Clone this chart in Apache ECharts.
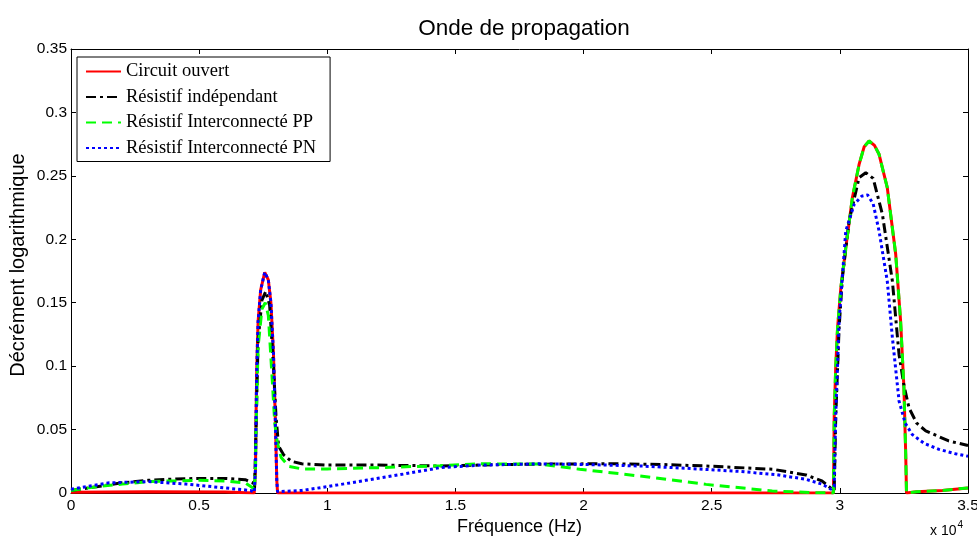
<!DOCTYPE html>
<html>
<head>
<meta charset="utf-8">
<script src="https://cdn.jsdelivr.net/npm/echarts@6/dist/echarts.min.js"></script>
<style>
  html, body { margin: 0; padding: 0; background: #fff; }
  #chart { width: 977px; height: 538px; }
</style>
</head>
<body>
<div id="chart"></div>
<script>
// frequencies in units of 1e4 Hz
const redX = [0, 0.3, 0.6, 0.715, 0.72, 0.722, 0.725, 0.73, 0.74, 0.756, 0.77, 0.78, 0.79, 0.797, 0.803, 0.806, 1.0, 1.5, 2.0, 2.5, 2.975,
  2.978, 2.984, 2.991, 3.004, 3.023, 3.049, 3.075, 3.095, 3.114, 3.135, 3.153, 3.185, 3.218, 3.237, 3.25, 3.257, 3.26, 3.3, 3.4, 3.5];
const redY = [0.0005, 0.001, 0.0008, 0, 0.02, 0.06, 0.1, 0.135, 0.16, 0.174, 0.168, 0.15, 0.11, 0.06, 0.01, 0, 0, 0, 0, 0, 0,
  0.06, 0.1, 0.13, 0.162, 0.193, 0.233, 0.259, 0.273, 0.2775, 0.274, 0.267, 0.2407, 0.188, 0.1356, 0.083, 0.0305, 0, 0.001, 0.002, 0.004];

const blackX = [0, 0.1, 0.2, 0.3, 0.4, 0.5, 0.6, 0.68, 0.71, 0.716, 0.722, 0.73, 0.745, 0.76, 0.775, 0.79, 0.8, 0.81, 0.83, 0.86, 0.9,
  1.0, 1.2, 1.44, 1.7, 2.089, 2.3, 2.478, 2.738, 2.868, 2.93, 2.97, 2.978, 2.984, 2.997, 3.01, 3.036, 3.075, 3.101, 3.13, 3.166,
  3.205, 3.231, 3.25, 3.27, 3.3, 3.335, 3.425, 3.5];
const blackY = [0.002, 0.005, 0.008, 0.01, 0.011, 0.0115, 0.0115, 0.0105, 0.008, 0.003, 0.05, 0.12, 0.152, 0.159, 0.148, 0.1, 0.06, 0.037, 0.03, 0.025, 0.023,
  0.022, 0.022, 0.0213, 0.0225, 0.0231, 0.0225, 0.0213, 0.0187, 0.0142, 0.0095, 0.003, 0.002, 0.06, 0.13, 0.17, 0.2144, 0.2486, 0.2525, 0.248, 0.2197,
  0.167, 0.109, 0.085, 0.067, 0.055, 0.049, 0.041, 0.0375];

const greenX = [0, 0.1, 0.2, 0.3, 0.4, 0.5, 0.6, 0.68, 0.71, 0.715, 0.72, 0.722, 0.73, 0.745, 0.758, 0.77, 0.785, 0.795, 0.805, 0.82, 0.85, 0.9,
  1.0, 1.2, 1.44, 1.6, 1.83, 1.985, 2.219, 2.478, 2.736, 2.9, 2.975,
  2.978, 2.984, 2.991, 3.004, 3.023, 3.049, 3.075, 3.095, 3.114, 3.135, 3.153, 3.185, 3.218, 3.237, 3.25, 3.257, 3.26, 3.3, 3.4, 3.5];
const greenY = [0.002, 0.005, 0.007, 0.009, 0.0095, 0.01, 0.0095, 0.008, 0.004, 0.002, 0.02, 0.05, 0.115, 0.145, 0.15, 0.14, 0.09, 0.055, 0.04, 0.028, 0.021, 0.019,
  0.019, 0.02, 0.0215, 0.023, 0.0228, 0.0187, 0.0134, 0.0068, 0.0016, 0.0003, 0,
  0.06, 0.1, 0.13, 0.162, 0.193, 0.233, 0.259, 0.273, 0.2775, 0.274, 0.267, 0.2407, 0.188, 0.1356, 0.083, 0.0305, 0, 0.001, 0.002, 0.004];

const blueX = [0, 0.15, 0.3, 0.45, 0.6, 0.7, 0.715, 0.72, 0.722, 0.725, 0.73, 0.74, 0.756, 0.77, 0.78, 0.79, 0.797, 0.803, 0.806, 0.9,
  1.0, 1.15, 1.3, 1.44, 1.6, 1.83, 2.0, 2.22, 2.4, 2.61, 2.75, 2.868, 2.93, 2.965, 2.978, 2.984, 2.997, 3.023, 3.056, 3.085, 3.108,
  3.13, 3.153, 3.185, 3.205, 3.231, 3.255, 3.283, 3.33, 3.387, 3.45, 3.5];
const blueY = [0.003, 0.008, 0.009, 0.007, 0.004, 0.002, 0.0005, 0.02, 0.06, 0.1, 0.135, 0.16, 0.174, 0.168, 0.15, 0.11, 0.06, 0.01, 0.001, 0.002,
  0.005, 0.01, 0.015, 0.02, 0.022, 0.023, 0.0225, 0.0213, 0.0195, 0.017, 0.0145, 0.0108, 0.007, 0.003, 0.005, 0.062, 0.1356, 0.2065, 0.2276, 0.234, 0.235,
  0.228, 0.2065, 0.167, 0.1224, 0.0725, 0.055, 0.046, 0.039, 0.0344, 0.031, 0.029];

const names = ['Circuit ouvert', 'Résistif indépendant', 'Résistif Interconnecté PP', 'Résistif Interconnecté PN'];

const zip = (xs, ys) => xs.map((x, i) => [x, ys[i]]);

const chart = echarts.init(document.getElementById('chart'), null, { renderer: 'canvas' });

const sansFont = 'Liberation Sans, Arial, sans-serif';

const boxAxis = {
  axisLine: { show: true, onZero: false, lineStyle: { color: '#000', width: 1 } },
  axisTick: { show: true, inside: true, length: 5, lineStyle: { color: '#000' } },
  splitLine: { show: false },
};

const lineSeries = (name, data, color, type) => ({
  name,
  type: 'line',
  data,
  showSymbol: false,
  symbol: 'none',
  animation: false,
  lineStyle: { color, width: 3, type },
  itemStyle: { color },
});

chart.setOption({
  backgroundColor: '#fff',
  animation: false,
  title: {
    text: 'Onde de propagation',
    left: 519,
    top: 12,
    textAlign: 'center',
    textStyle: { fontFamily: sansFont, fontSize: 22.5, fontWeight: 'normal', color: '#000' },
  },
  legend: {
    orient: 'vertical',
    left: 77,
    top: 57,
    padding: [5, 14, 4, 8],
    itemWidth: 35,
    itemHeight: 18,
    itemGap: 6.5,
    borderColor: '#000',
    borderWidth: 1,
    backgroundColor: '#fff',
    itemStyle: { opacity: 0 },
    data: names,
    textStyle: { fontFamily: 'Liberation Serif, Times New Roman, serif', fontSize: 18.5, color: '#000', lineHeight: 18 },
  },
  grid: { left: 71, right: 9, top: 49, bottom: 45, containLabel: false, outerBoundsMode: 'none' },
  xAxis: [
    Object.assign({
      type: 'value', min: 0, max: 3.5, interval: 0.5, position: 'bottom',
      name: 'Fréquence (Hz)', nameLocation: 'middle', nameGap: 25, nameMoveOverlap: false,
      nameTextStyle: { fontFamily: sansFont, fontSize: 18, color: '#000' },
      axisLabel: { fontFamily: sansFont, fontSize: 15.5, color: '#000', margin: 5 },
    }, boxAxis),
    Object.assign({
      type: 'value', min: 0, max: 3.5, interval: 0.5, position: 'top',
      axisLabel: { show: false },
    }, boxAxis),
  ],
  yAxis: [
    Object.assign({
      type: 'value', min: 0, max: 0.35, interval: 0.05, position: 'left',
      name: 'Décrément logarithmique', nameLocation: 'middle', nameGap: 43, nameRotate: 90, nameMoveOverlap: false,
      nameTextStyle: { fontFamily: sansFont, fontSize: 20, color: '#000', padding: [0, 0, 0, 12] },
      axisLabel: { fontFamily: sansFont, fontSize: 15.5, color: '#000', margin: 4 },
    }, boxAxis),
    Object.assign({
      type: 'value', min: 0, max: 0.35, interval: 0.05, position: 'right',
      axisLabel: { show: false },
    }, boxAxis),
  ],
  graphic: [
    {
      type: 'text',
      left: 930,
      top: 520,
      style: {
        text: '{a|x 10}{b|4}',
        rich: {
          a: { fontFamily: sansFont, fontSize: 14, fill: '#000', padding: [7, 0, 0, 0] },
          b: { fontFamily: sansFont, fontSize: 10, fill: '#000', padding: [0, 0, 6, 1] },
        },
      },
    },
  ],
  series: [
    lineSeries(names[0], zip(redX, redY), '#ff0000', 'solid'),
    lineSeries(names[1], zip(blackX, blackY), '#000000', [10, 4, 3, 4]),
    lineSeries(names[2], zip(greenX, greenY), '#00ff00', [10, 6]),
    lineSeries(names[3], zip(blueX, blueY), '#0000ff', [3, 3]),
  ],
});
</script>
</body>
</html>
